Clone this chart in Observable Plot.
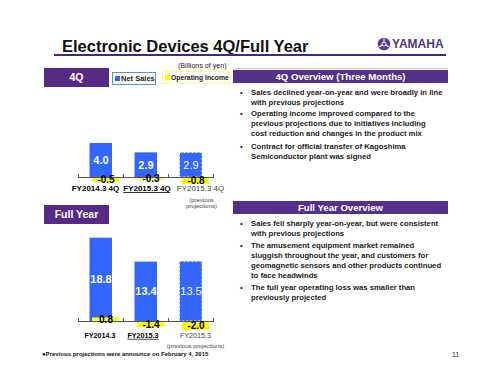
<!DOCTYPE html>
<html><head><meta charset="utf-8">
<script src="https://cdn.jsdelivr.net/npm/d3@7"></script>
<script src="https://cdn.jsdelivr.net/npm/@observablehq/plot@0.6"></script>
<style>
html,body{margin:0;padding:0;background:#fff;}
body{width:500px;height:375px;position:relative;overflow:hidden;font-family:"Liberation Sans",Arial,sans-serif;color:#111;}
.abs{position:absolute;white-space:nowrap;}
.box{position:absolute;background:#572b85;color:#fff;font-weight:bold;text-align:center;}
.bl{position:absolute;left:240px;font-weight:bold;font-size:7.7px;line-height:10px;color:#222;white-space:nowrap;}
.bl .dot{position:absolute;left:0;top:0;font-weight:normal;}
.bl .tx{padding-left:11px;}
.chart{position:absolute;}
</style></head>
<body>
<div class="abs" style="left:62px;top:37px;font-size:16.5px;line-height:18px;font-weight:bold;color:#111;">Electronic Devices 4Q/Full Year</div>
<div class="abs" style="left:54px;top:54px;width:392px;height:2px;background:#45287e;"></div>
<div class="abs" style="left:377px;top:37px;height:14px;">
  <svg width="14" height="14" style="position:absolute;left:0;top:0" viewBox="0 0 14 14">
    <circle cx="7" cy="7" r="6.3" fill="#5a3f91"/>
    <g stroke="#fff" stroke-width="1.1">
      <line x1="7" y1="7" x2="7" y2="1.5"/><line x1="7" y1="7" x2="11.8" y2="9.8"/><line x1="7" y1="7" x2="2.2" y2="9.8"/>
    </g>
    <circle cx="7" cy="7" r="2" fill="#5a3f91" stroke="#fff" stroke-width="0.9"/>
  </svg>
  <div style="position:absolute;left:15px;top:0;font-size:12px;line-height:14px;font-weight:bold;color:#4f3789;">YAMAHA</div>
</div>

<div class="abs" style="left:178px;top:62px;font-size:7.1px;line-height:9px;color:#222;">(Billions of yen)</div>
<div class="abs" style="left:235px;top:68px;width:213px;height:1px;background:#c8c8c8;"></div>

<div class="box" style="left:44px;top:68px;width:65px;height:19px;font-size:10.5px;line-height:19px;">4Q</div>
<div class="abs" style="left:112px;top:72px;width:42px;height:11px;border:1px solid #4f96dc;background:#fff;">
  <span style="position:absolute;left:2px;top:3px;width:5px;height:5px;background:#2f66f0;"></span>
  <span style="position:absolute;left:8px;top:0;font-size:7.5px;line-height:11px;font-weight:bold;color:#222;">Net Sales</span>
</div>
<div class="abs" style="left:162px;top:71px;width:66px;height:11px;border:1px solid #ffff70;background:#fff;">
  <span style="position:absolute;left:2px;top:3px;width:5px;height:5px;background:#ffff00;"></span>
  <span style="position:absolute;left:8px;top:0;font-size:6.8px;line-height:11px;font-weight:bold;color:#222;">Operating Income</span>
</div>

<div class="box" style="left:233px;top:70px;width:215px;height:13px;font-size:9.6px;line-height:13px;background:#53308a;">4Q Overview (Three Months)</div>
<div class="bl" style="top:88px;"><span class="dot">•</span><div class="tx">Sales declined year-on-year and were broadly in line<br>with previous projections</div></div>
<div class="bl" style="top:109px;"><span class="dot">•</span><div class="tx">Operating income improved compared to the<br>previous projections due to initiatives including<br>cost reduction and changes in the product mix</div></div>
<div class="bl" style="top:142px;"><span class="dot">•</span><div class="tx">Contract for official transfer of Kagoshima<br>Semiconductor plant was signed</div></div>

<div class="box" style="left:44px;top:205px;width:65px;height:19px;font-size:10.5px;line-height:19px;">Full Year</div>

<div class="box" style="left:233px;top:201px;width:215px;height:13px;font-size:9.6px;line-height:13px;background:#53308a;">Full Year Overview</div>
<div class="bl" style="top:219px;"><span class="dot">•</span><div class="tx">Sales fell sharply year-on-year, but were consistent<br>with previous projections</div></div>
<div class="bl" style="top:241px;"><span class="dot">•</span><div class="tx">The amusement equipment market remained<br>sluggish throughout the year, and customers for<br>geomagnetic sensors and other products continued<br>to face headwinds</div></div>
<div class="bl" style="top:283px;"><span class="dot">•</span><div class="tx">The full year operating loss was smaller than<br>previously projected</div></div>

<div class="abs" style="left:42px;top:350px;font-size:6px;line-height:8px;font-weight:bold;color:#111;">●Previous projections were announce on February 4, 2015</div>
<div class="abs" style="left:452px;top:351px;font-size:7px;line-height:8px;color:#333;">11</div>

<div id="q4" class="chart" style="left:40px;top:130px;"></div>
<div id="fy" class="chart" style="left:40px;top:225px;"></div>

<script>
// ---- data ----
const q4Labels = ["FY2014.3 4Q", "FY2015.3 4Q", "FY2015.3 4Q"];
const q4NetSales = [4.0, 2.9, 2.9];
const q4OpIncome = [-0.5, -0.3, -0.8];
const fyLabels = ["FY2014.3", "FY2015.3", "FY2015.3"];
const fyNetSales = [18.8, 13.4, 13.5];
const fyOpIncome = [0.8, -1.4, -2.0];
const q4Note = "(previous\nprojections)";
const fyNote = "(previous projections)";

const BLUE = "#3366ff", YELLOW = "#ffff00";

function makeChart(o) {
  const rows = o.labels.map((l, i) => ({i, label: l, sales: o.sales[i], op: o.op[i]}));
  const ml = 38, mr = 17;
  const bw = (o.width - ml - mr) / rows.length;
  const y0 = o.zeroPx, k = o.pxPerUnit;
  const actual = rows.filter(d => d.i < 2), prev = rows.filter(d => d.i === 2);
  const labelStyles = [
    {fill: "#000", fontWeight: "bold"},
    {fill: "#000001", fontWeight: "bold"},
    {fill: "#444", fontWeight: "normal"}
  ];
  const labelMarks = rows.map((d, j) => Plot.text([d], {
    x: "i", y: () => 0, text: "label", dy: o.labelDy, dx: o.labelDx[j],
    fontSize: o.labelFont, ...labelStyles[j]
  }));
  const svg = Plot.plot({
    width: o.width, height: o.height,
    marginLeft: ml, marginRight: mr, marginTop: 0, marginBottom: 0,
    style: {background: "transparent", fontFamily: "Liberation Sans, Arial, sans-serif"},
    x: {type: "band", domain: rows.map(d => d.i), padding: 0, axis: null},
    y: {domain: [(y0 - o.height) / k, y0 / k], range: [o.height, 0], axis: null},
    marks: [
      Plot.barY(actual, {x: "i", y: "sales", fill: BLUE, insetLeft: 11.5, insetRight: 11}),
      Plot.barY(prev, {x: "i", y: "sales", fill: BLUE, insetLeft: 11.5, insetRight: 11, stroke: "#fff", strokeWidth: 1, strokeDasharray: "2,2"}),
      Plot.barY(rows, {x: "i", y: "op", fill: YELLOW, insetLeft: 14, insetRight: 4}),
      Plot.ruleY([0], {stroke: "#555", strokeWidth: 1}),
      Plot.ruleX(rows, {x: "i", dx: -bw / 2, y1: () => 0, y2: () => 0, insetTop: 1, insetBottom: 3, stroke: "#555"}),
      Plot.ruleX(prev, {x: "i", dx: bw / 2, y1: () => 0, y2: () => 0, insetTop: 1, insetBottom: 3, stroke: "#555"}),
      Plot.text(actual, {x: "i", y: d => d.sales / 2, text: d => d.sales.toFixed(1), fill: "#fff", fontWeight: "bold", fontSize: 11}),
      Plot.text(prev, {x: "i", y: d => d.sales / 2, text: d => d.sales.toFixed(1), fill: "#fff", fontWeight: "normal", fontSize: 11}),
      Plot.text(rows, {x: "i", y: d => d.op / 2, dx: 5, text: d => d.op.toFixed(1), fill: "#000", fontWeight: "bold", fontSize: 10}),
      ...labelMarks,
      Plot.text(prev, {x: "i", y: () => 0, text: () => o.note, dy: o.noteDy, dx: o.noteDx, fontSize: 6, fill: "#444", lineHeight: 1})
    ]
  });
  d3.select(svg).selectAll('g[fill="#000001"] text').attr("text-decoration", "underline");
  return svg;
}

document.getElementById("q4").append(makeChart({
  labels: q4Labels, sales: q4NetSales, op: q4OpIncome,
  width: 190, height: 80, zeroPx: 47, pxPerUnit: 8.5,
  labelFont: 8, labelDy: 11, labelDx: [-5.5, 1, 9.5],
  note: q4Note, noteDx: 10.5, noteDy: 26
}));
document.getElementById("fy").append(makeChart({
  labels: fyLabels, sales: fyNetSales, op: fyOpIncome,
  width: 190, height: 125, zeroPx: 96, pxPerUnit: 4.43,
  labelFont: 7.2, labelDy: 14, labelDx: [-1, -3, 4.5],
  note: fyNote, noteDx: 4.5, noteDy: 25
}));
</script>
</body></html>
